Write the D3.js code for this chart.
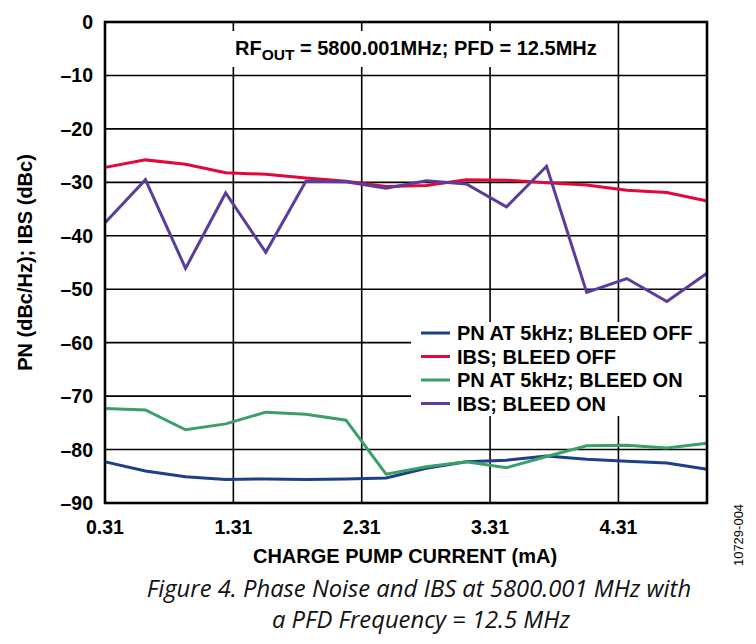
<!DOCTYPE html>
<html>
<head>
<meta charset="utf-8">
<script src="https://cdn.jsdelivr.net/npm/d3@7"></script>
<style>
  body { margin: 0; background: #fff; }
  svg text { font-family: "Liberation Sans", Arial, sans-serif; }
  .tick-label { font-size: 19.5px; font-weight: bold; fill: #000; }
  .axis-title { font-size: 20px; font-weight: bold; fill: #000; }
  .legend-label { font-size: 20px; font-weight: bold; fill: #000; }
  .caption { font-family: "Open Sans", "Noto Sans", sans-serif; font-style: italic; font-size: 23.8px; fill: #111; }
</style>
</head>
<body>
<svg id="chart" width="756" height="644"></svg>
<script>
/*****************************************************************************
 *  Chart data
 */
// charge pump current settings (mA)
var CURRENT = [0.3125, 0.625, 0.9375, 1.25, 1.5625, 1.875, 2.1875, 2.5,
               2.8125, 3.125, 3.4375, 3.75, 4.0625, 4.375, 4.6875, 5.0];

var PN_BLEED_OFF  = [-82.3, -84.0, -85.1, -85.6, -85.5, -85.6, -85.5, -85.3,
                     -83.5, -82.3, -82.0, -81.2, -81.8, -82.2, -82.5, -83.7];
var IBS_BLEED_OFF = [-27.2, -25.8, -26.6, -28.2, -28.5, -29.2, -29.8, -30.8,
                     -30.6, -29.5, -29.6, -30.1, -30.5, -31.5, -31.9, -33.5];
var PN_BLEED_ON   = [-72.3, -72.6, -76.3, -75.2, -73.0, -73.4, -74.5, -84.6,
                     -83.2, -82.3, -83.4, -81.3, -79.3, -79.2, -79.7, -78.8];
var IBS_BLEED_ON  = [-37.5, -29.5, -46.1, -32.0, -43.1, -29.8, -29.9, -31.1,
                     -29.7, -30.3, -34.6, -27.0, -50.6, -48.0, -52.3, -47.0];

var X_TICKS = [0.31, 1.31, 2.31, 3.31, 4.31];
var Y_TICKS = [0, -10, -20, -30, -40, -50, -60, -70, -80, -90];

var SERIES = [
    { name: "PN AT 5kHz; BLEED OFF", values: PN_BLEED_OFF,  color: "#1d3f88" },
    { name: "IBS; BLEED OFF",        values: IBS_BLEED_OFF, color: "#e2083c" },
    { name: "PN AT 5kHz; BLEED ON",  values: PN_BLEED_ON,   color: "#3a9f6b" },
    { name: "IBS; BLEED ON",         values: IBS_BLEED_ON,  color: "#5b3b9b" }
];

/*****************************************************************************
 *  Layout
 */
var PLOT_LEFT = 105;
var PLOT_RIGHT = 707;
var PLOT_TOP = 22;
var PLOT_BOTTOM = 503;
var GRID_COLOR = "#000";
var LINE_WIDTH = 3;

var svg = d3.select("#chart");

var xScale = d3.scaleLinear().domain([0.31, 5.0]).range([PLOT_LEFT, PLOT_RIGHT]);
var yScale = d3.scaleLinear().domain([-90, 0]).range([PLOT_BOTTOM, PLOT_TOP]);

// Gridlines
svg.selectAll(".hgrid")
    .data(Y_TICKS)
    .enter()
    .append("line")
    .attr("class", "hgrid")
    .attr("x1", PLOT_LEFT)
    .attr("x2", PLOT_RIGHT)
    .attr("y1", d => yScale(d))
    .attr("y2", d => yScale(d))
    .attr("stroke", GRID_COLOR)
    .attr("stroke-width", 1.6);

svg.selectAll(".vgrid")
    .data(X_TICKS)
    .enter()
    .append("line")
    .attr("class", "vgrid")
    .attr("x1", d => xScale(d))
    .attr("x2", d => xScale(d))
    .attr("y1", PLOT_TOP)
    .attr("y2", PLOT_BOTTOM)
    .attr("stroke", GRID_COLOR)
    .attr("stroke-width", 1.6);

// Tick labels
svg.selectAll(".y-label")
    .data(Y_TICKS)
    .enter()
    .append("text")
    .attr("class", "tick-label")
    .attr("text-anchor", "end")
    .attr("x", PLOT_LEFT - 12)
    .attr("y", d => yScale(d) + 7)
    .text(d => d3.format("")(d).replace("-", "\u2013").replace("\u2212", "\u2013"));

svg.selectAll(".x-label")
    .data(X_TICKS)
    .enter()
    .append("text")
    .attr("class", "tick-label")
    .attr("text-anchor", "middle")
    .attr("x", d => xScale(d))
    .attr("y", PLOT_BOTTOM + 31)
    .text(d => d.toFixed(2));

// Axis titles
svg.append("text")
    .attr("class", "axis-title")
    .attr("text-anchor", "middle")
    .attr("x", 405)
    .attr("y", 563)
    .text("CHARGE PUMP CURRENT (mA)");

svg.append("text")
    .attr("class", "axis-title")
    .attr("text-anchor", "middle")
    .attr("transform", "translate(32," + ((PLOT_TOP + PLOT_BOTTOM) / 2) + ") rotate(-90)")
    .text("PN (dBc/Hz); IBS (dBc)");

// Data lines
var lineGenerator = d3.line()
    .x((d, i) => xScale(CURRENT[i]))
    .y(d => yScale(d));

svg.selectAll(".series")
    .data(SERIES)
    .enter()
    .append("path")
    .attr("class", "series")
    .attr("d", s => lineGenerator(s.values))
    .attr("fill", "none")
    .attr("stroke", s => s.color)
    .attr("stroke-width", LINE_WIDTH)
    .attr("stroke-linejoin", "miter");

// Annotation box
svg.append("rect")
    .attr("x", 228)
    .attr("y", 31)
    .attr("width", 376)
    .attr("height", 36)
    .attr("fill", "#fff");

var note = svg.append("text")
    .attr("class", "axis-title")
    .attr("x", 235)
    .attr("y", 55);
note.append("tspan").text("RF");
note.append("tspan").attr("dy", 5).style("font-size", "15.5px").text("OUT");
note.append("tspan").attr("dy", -5).text(" = 5800.001MHz; PFD = 12.5MHz");

// Legend
var LEGEND_X = 411;
var LEGEND_Y = 322;
var LEGEND_ROW = 23.5;
svg.append("rect")
    .attr("x", LEGEND_X)
    .attr("y", LEGEND_Y)
    .attr("width", 288)
    .attr("height", 94)
    .attr("fill", "#fff");

var legendRow = svg.selectAll(".legend-row")
    .data(SERIES)
    .enter()
    .append("g")
    .attr("class", "legend-row")
    .attr("transform", (d, i) => "translate(" + LEGEND_X + "," + (LEGEND_Y + 11 + i * LEGEND_ROW) + ")");

legendRow.append("line")
    .attr("x1", 10)
    .attr("x2", 39)
    .attr("y1", 0)
    .attr("y2", 0)
    .attr("stroke", d => d.color)
    .attr("stroke-width", LINE_WIDTH);

legendRow.append("text")
    .attr("class", "legend-label")
    .attr("x", 46)
    .attr("y", 7)
    .text(d => d.name);

// Plot frame
svg.append("rect")
    .attr("x", PLOT_LEFT)
    .attr("y", PLOT_TOP)
    .attr("width", PLOT_RIGHT - PLOT_LEFT)
    .attr("height", PLOT_BOTTOM - PLOT_TOP)
    .attr("fill", "none")
    .attr("stroke", "#000")
    .attr("stroke-width", 2.6);

// Figure id and caption
svg.append("text")
    .attr("text-anchor", "middle")
    .attr("transform", "translate(743,535) rotate(-90)")
    .style("font-size", "13px")
    .text("10729-004");

svg.append("text")
    .attr("class", "caption")
    .attr("text-anchor", "middle")
    .attr("x", 419)
    .attr("y", 597)
    .text("Figure 4. Phase Noise and IBS at 5800.001 MHz with");

svg.append("text")
    .attr("class", "caption")
    .attr("text-anchor", "middle")
    .attr("x", 421)
    .attr("y", 628)
    .text("a PFD Frequency = 12.5 MHz");
</script>
</body>
</html>
